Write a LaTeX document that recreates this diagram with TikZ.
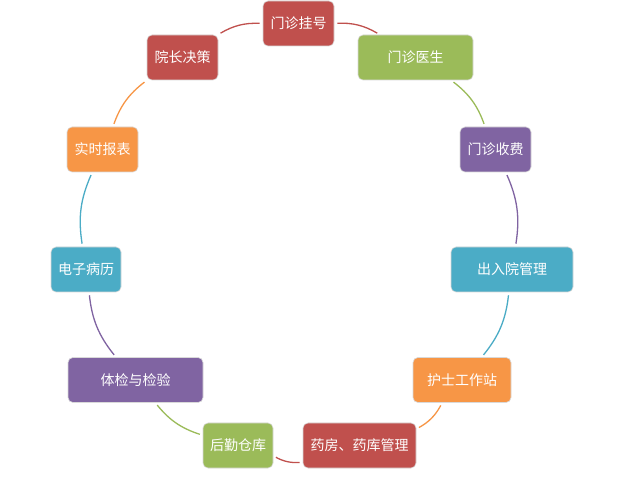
\documentclass[tikz,border=0pt]{standalone}
\usepackage{fontspec}
\setmainfont{Noto Sans CJK SC}
\definecolor{cred}{HTML}{C0504D}
\definecolor{cgreen}{HTML}{9BBB59}
\definecolor{cpurple}{HTML}{8064A2}
\definecolor{cblue}{HTML}{4BACC6}
\definecolor{corange}{HTML}{F79646}
\begin{document}
\begin{tikzpicture}[x=1pt,y=-1pt,
  box/.style={rectangle, rounded corners=5pt, draw=white!85!black, line width=0.6pt,
    text=white, minimum height=45pt, inner sep=0pt, font=\fontsize{14pt}{15pt}\selectfont},
  link/.style={line width=1.3pt, bend left=16.4, shorten <=3pt, shorten >=3pt}]
\useasboundingbox (0,0) rectangle (619,478);
\fill[white] (0,0) rectangle (619,478);
\node[box, fill=cred,    minimum width=71pt]  (n1)  at (298.5,23.5) {门诊挂号};
\node[box, fill=cgreen,  minimum width=115pt] (n2)  at (415.5,57.5) {门诊医生};
\node[box, fill=cpurple, minimum width=71pt]  (n3)  at (495.5,149.5) {门诊收费};
\node[box, fill=cblue,   minimum width=122pt] (n4)  at (512,269.5) {出入院管理};
\node[box, fill=corange, minimum width=98pt]  (n5)  at (462,380) {护士工作站};
\node[box, fill=cred,    minimum width=113pt] (n6)  at (359.5,445.5) {药房、药库管理};
\node[box, fill=cgreen,  minimum width=70pt]  (n7)  at (238,445.5) {后勤仓库};
\node[box, fill=cpurple, minimum width=135pt] (n8)  at (135.5,380) {体检与检验};
\node[box, fill=cblue,   minimum width=70pt]  (n9)  at (86,269.5) {电子病历};
\node[box, fill=corange, minimum width=71pt]  (n10) at (102.5,149.5) {实时报表};
\node[box, fill=cred,    minimum width=71pt]  (n11) at (182.5,57.5) {院长决策};
\draw[link, cred]    (n1)  to (n2);
\draw[link, cgreen]  (n2)  to (n3);
\draw[link, cpurple] (n3)  to (n4);
\draw[link, cblue]   (n4)  to (n5);
\draw[link, corange] (n5)  to (n6);
\draw[link, cred]    (n6)  to (n7);
\draw[link, cgreen]  (n7)  to (n8);
\draw[link, cpurple] (n8)  to (n9);
\draw[link, cblue]   (n9)  to (n10);
\draw[link, corange] (n10) to (n11);
\draw[link, cred]    (n11) to (n1);
\end{tikzpicture}
\end{document}
